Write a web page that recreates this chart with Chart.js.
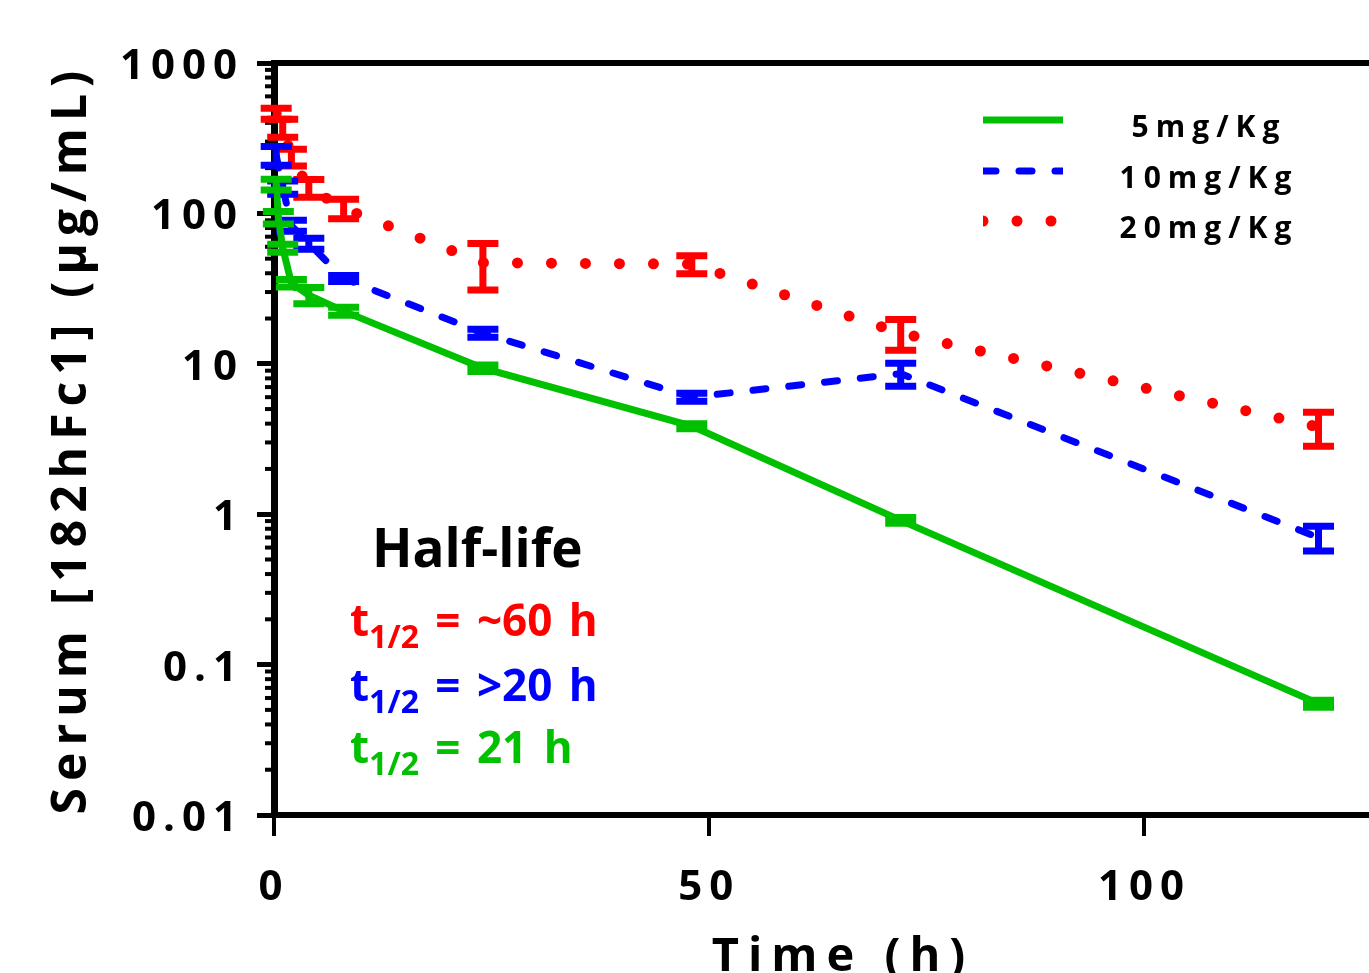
<!DOCTYPE html>
<html>
<head>
<meta charset="utf-8">
<script src="https://cdn.jsdelivr.net/npm/chart.js@4.4.0/dist/chart.umd.min.js"></script>
<style>
  body { margin: 0; background: #fff; overflow: hidden; }
  #wrap { position: relative; width: 1369px; height: 973px; }
  .note { position: absolute; font-family: 'Open Sans', sans-serif; font-weight: bold; white-space: nowrap; }
  .note sub { font-size: 32px; vertical-align: -12px; line-height: 0; }
  #halfTitle { left: 372px; top: 520px; font-size: 53px; line-height: 53px; color: #000; }
  .t { left: 350px; font-size: 44px; line-height: 44px; word-spacing: 5px; }
</style>
</head>
<body>
<div id="wrap">
  <canvas id="pkChart" width="1369" height="973"></canvas>
  <div class="note" id="halfTitle">Half-life</div>
  <div class="note t" style="top:597px;color:#ff0000">t<sub>1/2</sub> = ~60 h</div>
  <div class="note t" style="top:662px;color:#0000ff">t<sub>1/2</sub> = &gt;20 h</div>
  <div class="note t" style="top:724px;color:#00c000">t<sub>1/2</sub> = 21 h</div>
</div>
<script>
// sampling times (h)
const timesH = [0.25, 0.5, 1, 2, 4, 8, 24, 48, 72, 120];

// serum concentration, mean and SD (ug/mL)
const mean5 = [156, 94, 58.7, 34.4, 28.6, 22.4, 9.35, 3.85, 0.91, 0.055];
const sd5 = [13, 9, 3.6, 2, 3.5, 1.4, 0.45, 0.15, 0.04, 0.003];
const mean10 = [244, null, 149, 83, 63, 37, 16, 6.0, 8.6, 0.70];
const sd10 = [35, null, 15, 7, 5.3, 1.7, 1, 0.37, 1.5, 0.13];
const mean20 = [461, null, 372, 237, 148, 108, 47, 46, 16, 3.8];
const sd20 = [39, null, 51, 30, 20, 16, 16, 6.3, 3.7, 0.97];

const seriesLabels = ['5mg/Kg', '10mg/Kg', '20mg/Kg'];
const xTicks = [0, 50, 100];
const yTicks = [0.01, 0.1, 1, 10, 100, 1000];
const yTickLabels = ['0.01', '0.1', '1', '10', '100', '1000'];

const toPoints = (means) => timesH.map((t, i) => ({x: t, y: means[i]}));

Chart.defaults.font.family = "'Open Sans', sans-serif";
Chart.defaults.font.weight = 'bold';
Chart.defaults.color = '#000';

const spacingPlugin = {
    id: 'spacing',
    beforeDraw(chart) {
        chart.ctx.letterSpacing = '7px';
    }
};

// top frame line and minor log ticks on the y axis
const framePlugin = {
    id: 'frame',
    beforeDatasetsDraw(chart) {
        const {ctx, chartArea, scales} = chart;
        ctx.save();
        ctx.strokeStyle = '#000';
        ctx.lineWidth = 6;
        ctx.beginPath();
        ctx.moveTo(chartArea.left, chartArea.top);
        ctx.lineTo(chartArea.right, chartArea.top);
        ctx.stroke();
        ctx.lineWidth = 4;
        for (let k = -2; k < 3; k++) {
            for (let m = 2; m < 10; m++) {
                const y = scales.y.getPixelForValue(m * Math.pow(10, k));
                ctx.beginPath();
                ctx.moveTo(chartArea.left - 9, y);
                ctx.lineTo(chartArea.left, y);
                ctx.stroke();
            }
        }
        ctx.restore();
    }
};

const errorBarPlugin = {
    id: 'errorBars',
    afterDatasetDraw(chart, args) {
        const ds = chart.data.datasets[args.index];
        const {ctx, scales} = chart;
        ctx.save();
        ctx.strokeStyle = ds.borderColor;
        ctx.lineWidth = 7;
        ctx.lineCap = 'butt';
        ctx.setLineDash([]);
        ds.data.forEach((p, i) => {
            if (p.y === null) return;
            const sd = ds.errors[i];
            const x = scales.x.getPixelForValue(p.x);
            const yHi = scales.y.getPixelForValue(p.y + sd);
            const yLo = scales.y.getPixelForValue(p.y - sd);
            ctx.beginPath();
            ctx.moveTo(x, yHi);
            ctx.lineTo(x, yLo);
            ctx.moveTo(x - 15.5, yHi);
            ctx.lineTo(x + 15.5, yHi);
            ctx.moveTo(x - 15.5, yLo);
            ctx.lineTo(x + 15.5, yLo);
            ctx.stroke();
        });
        ctx.restore();
    }
};

const legendPlugin = {
    id: 'sideLegend',
    afterDraw(chart) {
        const {ctx} = chart;
        const x0 = 983, x1 = 1063, textX = 1209;
        const rows = [120, 171, 221];
        chart.data.datasets.forEach((ds, i) => {
            const y = rows[i];
            ctx.save();
            ctx.beginPath();
            ctx.rect(x0, y - 10, x1 - x0, 20);
            ctx.clip();
            ctx.strokeStyle = ds.borderColor;
            ctx.lineWidth = ds.borderWidth;
            ctx.lineCap = ds.borderCapStyle || 'butt';
            ctx.setLineDash(ds.borderDash || []);
            ctx.beginPath();
            ctx.moveTo(x0, y);
            ctx.lineTo(x1 + 20, y);
            ctx.stroke();
            ctx.restore();
            ctx.save();
            ctx.font = "bold 30px 'Open Sans'";
            ctx.letterSpacing = '7px';
            ctx.fillStyle = '#000';
            ctx.textAlign = 'center';
            ctx.textBaseline = 'middle';
            ctx.fillText(ds.label, textX, y + 8);
            ctx.restore();
        });
        // x axis title
        ctx.save();
        ctx.font = "bold 47px 'Open Sans'";
        ctx.letterSpacing = '9px';
        ctx.fillStyle = '#000';
        ctx.textAlign = 'center';
        ctx.textBaseline = 'alphabetic';
        ctx.fillText('Time (h)', 843, 971);
        ctx.restore();
    }
};

const ctx = document.getElementById('pkChart').getContext('2d');
const pkChart = new Chart(ctx, {
    type: 'line',
    data: {
        datasets: [{
            label: seriesLabels[0],
            data: toPoints(mean5),
            errors: sd5,
            borderColor: '#00c000',
            borderWidth: 7,
            pointRadius: 0,
            tension: 0,
            fill: false
        },
        {
            label: seriesLabels[1],
            data: toPoints(mean10),
            errors: sd10,
            borderColor: '#0000ff',
            borderWidth: 7,
            borderDash: [13, 23],
            borderCapStyle: 'round',
            pointRadius: 0,
            tension: 0,
            spanGaps: true,
            fill: false
        },
        {
            label: seriesLabels[2],
            data: toPoints(mean20),
            errors: sd20,
            borderColor: '#ff0000',
            borderWidth: 11,
            borderDash: [0, 34],
            borderCapStyle: 'round',
            pointRadius: 0,
            tension: 0,
            spanGaps: true,
            fill: false
        }]
    },
    options: {
        responsive: false,
        animation: false,
        layout: {padding: {left: 0, top: 63, right: 0, bottom: 0}},
        plugins: {
            legend: {display: false},
            tooltip: {enabled: false}
        },
        scales: {
            x: {
                type: 'linear',
                min: 0,
                max: 125.8,
                afterBuildTicks: (s) => { s.ticks = xTicks.map(v => ({value: v})); },
                afterFit: (s) => { s.height = 158; },
                ticks: {
                    font: {size: 42, weight: 'bold'},
                    color: '#000',
                    padding: 27,
                    maxRotation: 0,
                    callback: (v) => String(v)
                },
                grid: {drawOnChartArea: false, tickLength: 21, lineWidth: 4, color: '#000'},
                border: {color: '#000', width: 6}
            },
            y: {
                type: 'logarithmic',
                min: 0.01,
                max: 1000,
                afterBuildTicks: (s) => { s.ticks = yTicks.map(v => ({value: v})); },
                afterFit: (s) => { s.width = 274; },
                ticks: {
                    font: {size: 42, weight: 'bold'},
                    color: '#000',
                    padding: 13,
                    labelOffset: 4,
                    callback: (v, i) => yTickLabels[i]
                },
                grid: {drawOnChartArea: false, tickLength: 17, lineWidth: 5, color: '#000'},
                border: {color: '#000', width: 7},
                title: {
                    display: true,
                    text: 'Serum [182hFc1] (µg/mL)',
                    font: {size: 48, weight: 'bold'},
                    color: '#000',
                    padding: {top: 44, bottom: 0}
                }
            }
        }
    },
    plugins: [spacingPlugin, framePlugin, errorBarPlugin, legendPlugin]
});
</script>
</body>
</html>
